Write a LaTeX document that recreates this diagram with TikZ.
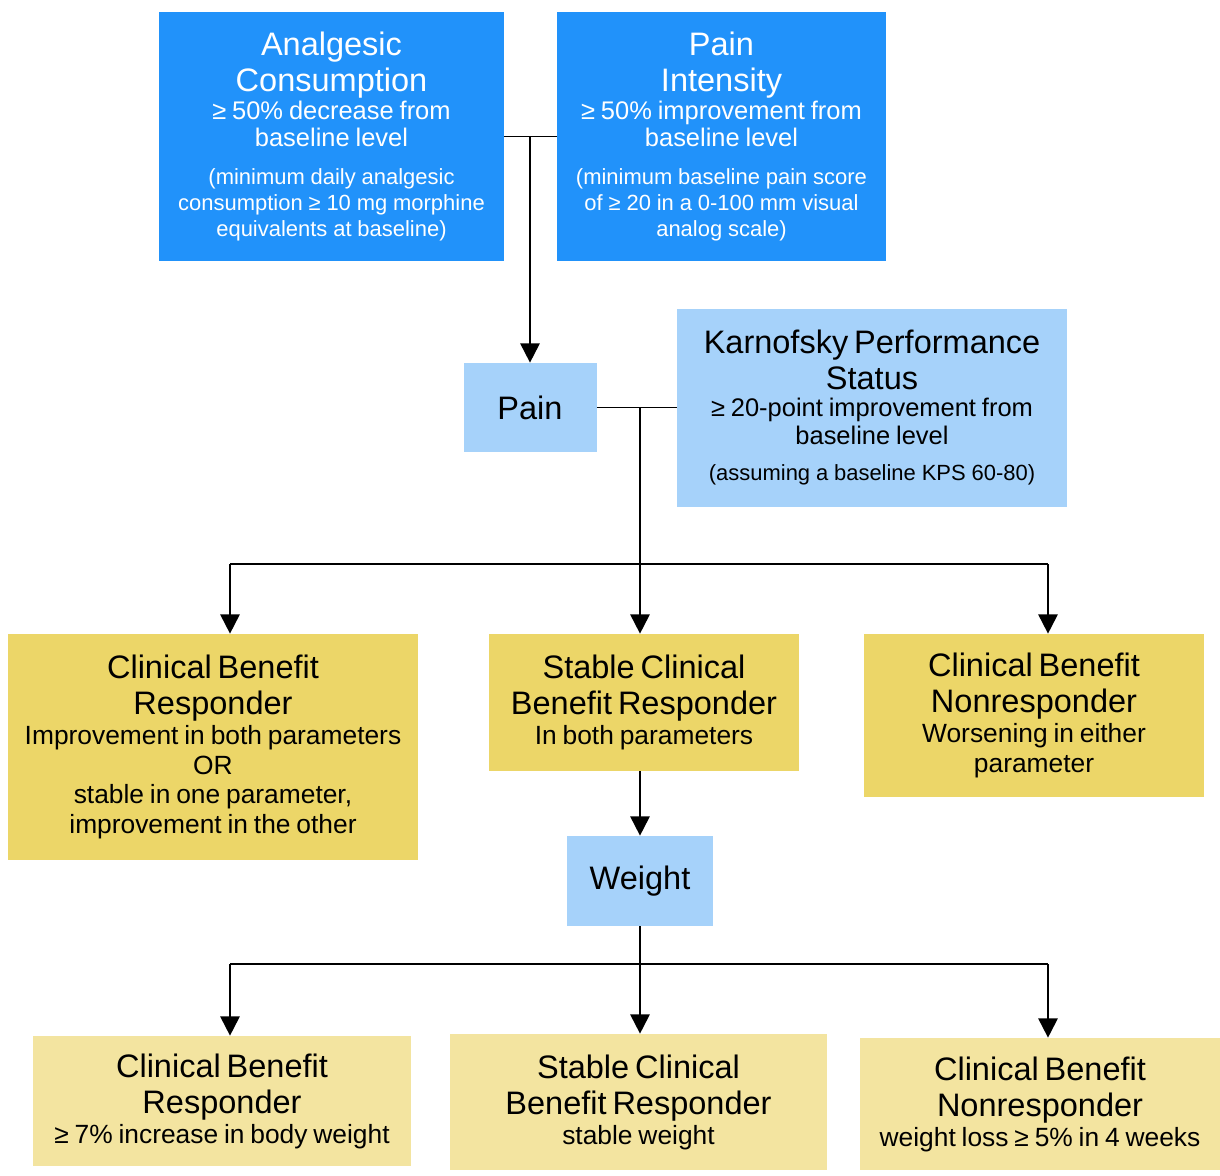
\documentclass[tikz,border=0pt]{standalone}
\usepackage{fontspec}
\setmainfont{Liberation Sans}
\usetikzlibrary{positioning,arrows.meta}
\definecolor{mydeepblue}{RGB}{33,146,250}
\definecolor{mylightblue}{RGB}{166,210,250}
\definecolor{mygold}{RGB}{236,214,104}
\definecolor{mysand}{RGB}{243,228,160}
\newcommand{\boxhead}{\fontsize{18.5}{20.5}\selectfont}
\newcommand{\boxtext}{\fontsize{14.5}{15.5}\selectfont}
\newcommand{\boxtextloose}{\fontsize{15}{17}\selectfont}
\newcommand{\boxnote}{\fontsize{12.5}{14.7}\selectfont}
\tikzstyle{box}=[rectangle,inner sep=0pt,align=center]
\tikzstyle{box dark}=[box,fill=mydeepblue,text=white]
\tikzstyle{box light}=[box,fill=mylightblue]
\tikzstyle{box gold}=[box,fill=mygold]
\tikzstyle{box sand}=[box,fill=mysand]
\tikzstyle{connect}=[line width=1.1pt,black]
\tikzstyle{connect arrow}=[-{Triangle[length=11pt,width=11pt]},connect]

\begin{document}
\begin{tikzpicture}
\useasboundingbox (0,0) rectangle (24.4,-23.5);

% Pain criteria
\node [box dark, minimum width=6.9cm, minimum height=4.98cm, text width=6.7cm] (AC) at (6.63,-2.73)
{{\boxhead Analgesic\\Consumption\par}{\boxtext ≥ 50\% decrease from\\baseline level\par}\vspace{7pt}{\boxnote (minimum daily analgesic\\consumption ≥ 10 mg morphine\\equivalents at baseline)\par}};
\node [box dark, minimum width=6.58cm, minimum height=4.98cm, text width=6.38cm] (PI) at (14.43,-2.73)
{{\boxhead Pain\\Intensity\par}{\boxtext ≥ 50\% improvement from\\baseline level\par}\vspace{7pt}{\boxnote (minimum baseline pain score\\of ≥ 20 in a 0-100 mm visual\\analog scale)\par}};

% Pain and KPS
\node [box light, minimum width=2.66cm, minimum height=1.78cm] (P) at (10.6,-8.15) {\boxhead Pain};
\node [box light, minimum width=7.8cm, minimum height=3.96cm, text width=7.6cm] (K) at (17.44,-8.15)
{{\boxhead Karnofsky Performance\\Status\par}{\boxtext ≥ 20-point improvement from\\baseline level\par}\vspace{6pt}{\boxnote (assuming a baseline KPS 60-80)\par}};

% first outcome row
\node [box gold, minimum width=8.2cm, minimum height=4.52cm, text width=8cm] (R1) at (4.26,-14.94)
{{\boxhead Clinical Benefit\\Responder\par}{\boxtextloose Improvement in both parameters\\OR\\stable in one parameter,\\improvement in the other\par}};
\node [box gold, minimum width=6.2cm, minimum height=2.74cm, text width=6cm] (S1) at (12.88,-14.05)
{{\boxhead Stable Clinical\\Benefit Responder\par}{\boxtextloose In both parameters\par}};
\node [box gold, minimum width=6.8cm, minimum height=3.26cm, text width=6.6cm] (N1) at (20.68,-14.31)
{{\boxhead Clinical Benefit\\Nonresponder\par}{\boxtextloose Worsening in either\\parameter\par}};

% Weight
\node [box light, minimum width=2.92cm, minimum height=1.8cm] (W) at (12.8,-17.62) {\boxhead Weight};

% second outcome row
\node [box sand, minimum width=7.56cm, minimum height=2.6cm, text width=7.36cm] (R2) at (4.44,-22.02)
{{\boxhead Clinical Benefit\\Responder\par}{\boxtextloose ≥ 7\% increase in body weight\par}};
\node [box sand, minimum width=7.54cm, minimum height=2.72cm, text width=7.34cm] (S2) at (12.77,-22.04)
{{\boxhead Stable Clinical\\Benefit Responder\par}{\boxtextloose stable weight\par}};
\node [box sand, minimum width=7.2cm, minimum height=2.64cm, text width=7cm] (N2) at (20.8,-22.08)
{{\boxhead Clinical Benefit\\Nonresponder\par}{\boxtextloose weight loss ≥ 5\% in 4 weeks\par}};

% joints
\coordinate (J1) at (10.6,-2.73);
\coordinate (J2) at (12.8,-8.15);
\coordinate (B1) at (4.6,-11.28);
\coordinate (B2) at (12.8,-11.28);
\coordinate (B3) at (20.96,-11.28);
\coordinate (C1) at (4.6,-19.28);
\coordinate (C2) at (12.8,-19.28);
\coordinate (C3) at (20.96,-19.28);

\begin{scope}[connect]
    \draw (AC.east) -- (PI.west);
    \draw (P.east) -- (K.west);
    \draw (J2) -- (B2);
    \draw (B1) -- (B3);
    \draw (W.south) -- (C2);
    \draw (C1) -- (C3);
\end{scope}

\begin{scope}[connect arrow]
    \draw (J1) -- (P.north);
    \draw (B1) -- (B1 |- R1.north);
    \draw (B2) -- (B2 |- S1.north);
    \draw (B3) -- (B3 |- N1.north);
    \draw (W.north |- S1.south) -- (W.north);
    \draw (C1) -- (C1 |- R2.north);
    \draw (C2) -- (C2 |- S2.north);
    \draw (C3) -- (C3 |- N2.north);
\end{scope}

\end{tikzpicture}
\end{document}
